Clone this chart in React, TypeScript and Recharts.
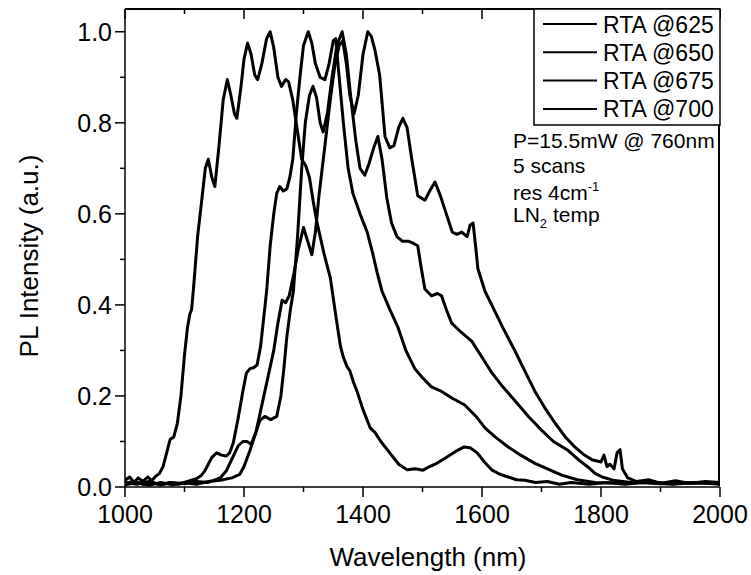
import { LineChart, Line, XAxis, YAxis } from 'recharts';

// PL spectra, [wavelength nm, normalised intensity]
const rta625: [number, number][] = [
  [1000, 0.01], [1020, 0.006], [1040, 0.012], [1060, 0.005], [1080, 0.01], [1100, 0.007],
  [1120, 0.012], [1140, 0.01], [1160, 0.02], [1170, 0.035], [1182, 0.068], [1190, 0.09],
  [1198, 0.1], [1205, 0.1], [1212, 0.094], [1220, 0.12], [1230, 0.18], [1240, 0.24],
  [1250, 0.3], [1257, 0.36], [1264, 0.41], [1270, 0.405], [1276, 0.42], [1284, 0.47],
  [1291, 0.52], [1300, 0.57], [1307, 0.54], [1314, 0.51], [1320, 0.56], [1326, 0.64],
  [1336, 0.75], [1345, 0.85], [1352, 0.92], [1360, 0.97], [1366, 0.98], [1372, 0.93],
  [1378, 0.86], [1385, 0.82], [1392, 0.86], [1400, 0.95], [1408, 1.0], [1414, 0.99],
  [1420, 0.96], [1428, 0.905], [1437, 0.77], [1445, 0.745], [1452, 0.75], [1460, 0.79],
  [1467, 0.81], [1474, 0.79], [1482, 0.72], [1492, 0.64], [1504, 0.63], [1512, 0.65],
  [1521, 0.67], [1530, 0.64], [1540, 0.6], [1550, 0.56], [1558, 0.555], [1566, 0.56],
  [1575, 0.55], [1580, 0.575], [1585, 0.58], [1590, 0.52], [1593, 0.48], [1605, 0.43],
  [1620, 0.39], [1635, 0.35], [1655, 0.3], [1670, 0.26], [1689, 0.21], [1705, 0.175],
  [1723, 0.14], [1740, 0.11], [1756, 0.088], [1770, 0.072], [1785, 0.06], [1800, 0.055],
  [1805, 0.07], [1810, 0.045], [1815, 0.05], [1822, 0.04], [1827, 0.075], [1832, 0.082],
  [1836, 0.04], [1845, 0.02], [1860, 0.012], [1880, 0.016], [1900, 0.008], [1925, 0.014],
  [1950, 0.008], [1975, 0.012], [2000, 0.01],
];

const rta650: [number, number][] = [
  [1000, 0.005], [1020, 0.01], [1040, 0.004], [1060, 0.01], [1080, 0.005], [1100, 0.01],
  [1120, 0.006], [1140, 0.012], [1160, 0.015], [1180, 0.02], [1193, 0.028], [1200, 0.045],
  [1210, 0.08], [1220, 0.12], [1227, 0.147], [1235, 0.155], [1245, 0.148], [1255, 0.155],
  [1262, 0.2], [1267, 0.26], [1272, 0.33], [1278, 0.39], [1283, 0.43], [1290, 0.55],
  [1297, 0.7], [1303, 0.8], [1310, 0.86], [1316, 0.88], [1322, 0.855], [1328, 0.8],
  [1333, 0.78], [1340, 0.82], [1348, 0.9], [1356, 0.97], [1365, 1.0], [1372, 0.95],
  [1380, 0.85], [1388, 0.76], [1395, 0.7], [1403, 0.685], [1410, 0.71], [1418, 0.745],
  [1425, 0.77], [1432, 0.72], [1440, 0.635], [1448, 0.58], [1457, 0.55], [1466, 0.54],
  [1476, 0.54], [1485, 0.535], [1492, 0.53], [1498, 0.48], [1504, 0.435], [1515, 0.42],
  [1525, 0.425], [1532, 0.42], [1540, 0.39], [1549, 0.36], [1565, 0.34], [1583, 0.32],
  [1600, 0.285], [1617, 0.25], [1635, 0.22], [1655, 0.19], [1678, 0.155], [1700, 0.125],
  [1720, 0.1], [1745, 0.08], [1762, 0.06], [1778, 0.044], [1790, 0.03], [1802, 0.022],
  [1820, 0.015], [1850, 0.01], [1880, 0.012], [1920, 0.007], [1960, 0.01], [2000, 0.006],
];

const rta675: [number, number][] = [
  [1000, 0.008], [1015, 0.012], [1030, 0.006], [1045, 0.01], [1060, 0.005], [1075, 0.01],
  [1090, 0.006], [1105, 0.012], [1120, 0.018], [1128, 0.025], [1134, 0.035], [1140, 0.05],
  [1146, 0.065], [1154, 0.075], [1162, 0.07], [1170, 0.068], [1176, 0.075], [1182, 0.097],
  [1190, 0.15], [1198, 0.21], [1204, 0.25], [1210, 0.26], [1216, 0.262], [1222, 0.268],
  [1228, 0.31], [1233, 0.37], [1238, 0.43], [1244, 0.53], [1250, 0.6], [1255, 0.645],
  [1260, 0.66], [1266, 0.65], [1272, 0.655], [1277, 0.68], [1282, 0.72], [1288, 0.82],
  [1294, 0.9], [1300, 0.97], [1308, 1.0], [1314, 0.975], [1320, 0.93], [1328, 0.9],
  [1336, 0.895], [1343, 0.93], [1350, 0.98], [1354, 0.985], [1360, 0.9], [1367, 0.8],
  [1375, 0.7], [1383, 0.645], [1395, 0.6], [1407, 0.56], [1415, 0.52], [1424, 0.47],
  [1432, 0.43], [1445, 0.39], [1459, 0.35], [1472, 0.3], [1487, 0.26], [1500, 0.24],
  [1515, 0.22], [1532, 0.21], [1550, 0.195], [1571, 0.18], [1590, 0.155], [1605, 0.13],
  [1622, 0.11], [1644, 0.088], [1665, 0.07], [1689, 0.052], [1710, 0.04], [1734, 0.026],
  [1760, 0.016], [1790, 0.01], [1830, 0.008], [1870, 0.01], [1920, 0.006], [1960, 0.01],
  [2000, 0.008],
];

const rta700: [number, number][] = [
  [1000, 0.015], [1008, 0.022], [1015, 0.01], [1022, 0.02], [1030, 0.012], [1038, 0.022],
  [1045, 0.014], [1052, 0.024], [1058, 0.03], [1064, 0.045], [1070, 0.075], [1076, 0.105],
  [1082, 0.11], [1088, 0.14], [1094, 0.2], [1100, 0.29], [1105, 0.35], [1109, 0.38],
  [1112, 0.39], [1116, 0.45], [1122, 0.55], [1129, 0.63], [1135, 0.7], [1140, 0.72],
  [1146, 0.68], [1151, 0.66], [1158, 0.75], [1165, 0.85], [1172, 0.895], [1178, 0.86],
  [1184, 0.82], [1188, 0.81], [1195, 0.88], [1200, 0.94], [1206, 0.975], [1212, 0.95],
  [1218, 0.905], [1223, 0.895], [1230, 0.93], [1238, 0.985], [1244, 1.0], [1250, 0.965],
  [1257, 0.9], [1263, 0.88], [1270, 0.895], [1275, 0.89], [1282, 0.85], [1290, 0.78],
  [1297, 0.72], [1304, 0.705], [1310, 0.68], [1316, 0.63], [1322, 0.585], [1328, 0.55],
  [1335, 0.51], [1345, 0.46], [1355, 0.37], [1362, 0.31], [1367, 0.285], [1373, 0.265],
  [1378, 0.255], [1384, 0.23], [1390, 0.21], [1400, 0.17], [1412, 0.13], [1420, 0.12],
  [1430, 0.1], [1445, 0.075], [1460, 0.05], [1474, 0.038], [1488, 0.04], [1501, 0.037],
  [1512, 0.045], [1524, 0.052], [1540, 0.065], [1558, 0.08], [1570, 0.088], [1580, 0.086],
  [1592, 0.075], [1604, 0.055], [1617, 0.037], [1630, 0.028], [1644, 0.022], [1658, 0.016],
  [1672, 0.015], [1690, 0.01], [1710, 0.012], [1730, 0.006], [1750, 0.01], [1780, 0.006],
  [1810, 0.01], [1840, 0.006], [1870, 0.01], [1900, 0.007], [1930, 0.01], [1960, 0.008],
  [2000, 0.01],
];

const seriesNames = ['RTA @625', 'RTA @650', 'RTA @675', 'RTA @700'];
const xTicks = [1000, 1100, 1200, 1300, 1400, 1500, 1600, 1700, 1800, 1900, 2000];
const yTicks = [0, 0.1, 0.2, 0.3, 0.4, 0.5, 0.6, 0.7, 0.8, 0.9, 1.0];
const notes = ['P=15.5mW @ 760nm', '5 scans'];

const series = [rta625, rta650, rta675, rta700].map((pts) =>
  pts.map(([x, y]) => ({ x, y }))
);

const FONT = '"Liberation Sans", Arial, Helvetica, sans-serif';

// plot box in page pixels (follows from the chart margins / axis sizes below)
const PLOT = { left: 125, top: 9, right: 720, bottom: 487 };

const isMajorX = (v: number) => v % 200 === 0;
const isMajorY = (v: number) => Math.round(v * 10) % 2 === 0;

function BottomTick(props: any) {
  const { x, y, payload } = props;
  const major = isMajorX(payload.value);
  const len = major ? 10 : 5;
  return (
    <g>
      <path d={`M${x},${y}v${len}M${x},${PLOT.top}v${len}`} stroke="#000" strokeWidth={1.5} />
      {major && (
        <text x={x} y={y + 36} textAnchor="middle" fontSize={25} fill="#000">
          {payload.value}
        </text>
      )}
    </g>
  );
}

function LeftTick(props: any) {
  const { x, y, payload } = props;
  const major = isMajorY(payload.value);
  return (
    <g>
      <path d={`M${x - (major ? 10 : 5)},${y}H${x}`} stroke="#000" strokeWidth={1.5} />
      {major && (
        <text x={x - 13} y={y + 9} textAnchor="end" fontSize={25} fill="#000">
          {payload.value.toFixed(1)}
        </text>
      )}
    </g>
  );
}

export default function App() {
  return (
    <div
      style={{
        position: 'absolute',
        left: 0,
        top: 0,
        width: 751,
        height: 575,
        background: '#fff',
        fontFamily: FONT,
      }}
    >
      <LineChart width={751} height={575} margin={{ top: 9, right: 31, left: 0, bottom: 0 }}>
        <XAxis
          dataKey="x"
          type="number"
          domain={[1000, 2000]}
          ticks={xTicks}
          interval={0}
          height={88}
          tickSize={0}
          tickMargin={0}
          tickLine={false}
          tick={(p: any) => <BottomTick {...p} />}
          axisLine={{ stroke: '#000', strokeWidth: 1.5 }}
          allowDataOverflow
        />
        <YAxis
          type="number"
          domain={[0, 1.05]}
          ticks={yTicks}
          interval={0}
          width={125}
          tickSize={0}
          tickMargin={0}
          tickLine={false}
          tick={(p: any) => <LeftTick {...p} />}
          axisLine={{ stroke: '#000', strokeWidth: 1.5 }}
          allowDataOverflow
        />
        {series.map((data, i) => (
          <Line
            key={seriesNames[i]}
            data={data}
            dataKey="y"
            name={seriesNames[i]}
            type="linear"
            stroke="#000"
            strokeWidth={3}
            strokeLinejoin="round"
            dot={false}
            activeDot={false}
            isAnimationActive={false}
          />
        ))}
      </LineChart>

      {/* top and right edges of the frame */}
      <div
        style={{
          position: 'absolute',
          left: PLOT.left,
          top: PLOT.top - 1,
          width: PLOT.right - PLOT.left,
          height: PLOT.bottom - PLOT.top,
          borderTop: '2px solid #000',
          borderRight: '2px solid #000',
          boxSizing: 'border-box',
          pointerEvents: 'none',
        }}
      />

      <svg
        width={751}
        height={575}
        style={{ position: 'absolute', left: 0, top: 0, pointerEvents: 'none' }}
      >
        <text x={428} y={566} textAnchor="middle" fontSize={26} fill="#000">
          Wavelength (nm)
        </text>
        <text
          transform="translate(38,256) rotate(-90)"
          textAnchor="middle"
          fontSize={26}
          fill="#000"
        >
          PL Intensity (a.u.)
        </text>

        <rect x={534} y={9} width={186} height={116} fill="#fff" stroke="#000" strokeWidth={1.5} />
        {seriesNames.map((name, i) => {
          const cy = 24 + i * 28.3;
          return (
            <g key={name}>
              <line x1={543} x2={597} y1={cy} y2={cy} stroke="#000" strokeWidth={2} />
              <text x={603} y={cy + 8.5} fontSize={23} fill="#000">
                {name}
              </text>
            </g>
          );
        })}

        <text x={513} y={148} fontSize={21} fill="#000">{notes[0]}</text>
        <text x={513} y={173} fontSize={21} fill="#000">{notes[1]}</text>
        <text x={513} y={200} fontSize={21} fill="#000">
          res 4cm<tspan dy={-9} fontSize={13}>-1</tspan>
        </text>
        <text x={513} y={222} fontSize={21} fill="#000">
          LN<tspan dy={6} fontSize={13}>2</tspan>
          <tspan dy={-6}> temp</tspan>
        </text>
      </svg>
    </div>
  );
}
